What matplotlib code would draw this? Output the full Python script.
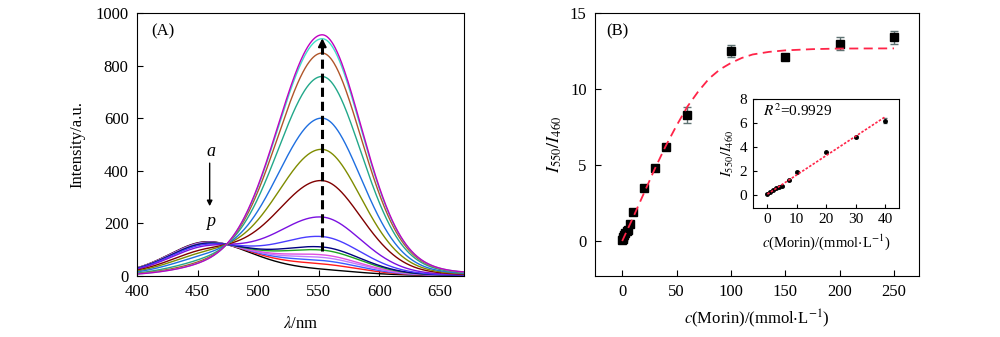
import numpy as np
import matplotlib
matplotlib.use("Agg")
import matplotlib.pyplot as plt

plt.rcParams['font.family'] = ['Liberation Serif', 'DejaVu Serif']
plt.rcParams['mathtext.fontset'] = 'stix'

# ---- panel A: band heights (curves a..p)
band460_height = [130, 128, 127, 125, 124, 122, 121, 116, 108, 92, 79, 65, 47, 37, 31, 30]
band553_height = [15, 35, 48, 60, 70, 88, 100, 140, 215, 355, 475, 595, 755, 845, 900, 915]
curve_colors = ['#000000', '#ff1a1a', '#3a5cff', '#c07cff', '#e050e0', '#1fa31f',
                '#000080', '#4a3cff', '#7a10e0', '#800000', '#7f8c00', '#1f6fe0',
                '#22a88a', '#b0562a', '#40e0c8', '#c000c0']

# ---- panel B: ratio vs concentration
conc = [0, 0.5, 1, 2, 3, 4, 5, 7.5, 10, 20, 30, 40, 60, 100, 150, 200, 250]
ratio = [0.1, 0.15, 0.25, 0.4, 0.55, 0.65, 0.7, 1.15, 1.9, 3.5, 4.8, 6.2, 8.3, 12.5, 12.1, 13.0, 13.4]
ratio_err = [0.05, 0.05, 0.05, 0.05, 0.05, 0.05, 0.05, 0.08, 0.1, 0.1, 0.12, 0.15, 0.5, 0.4, 0.2, 0.45, 0.4]
fit_x = [0, 10, 20, 30, 40, 50, 60, 70, 80, 90, 100, 110, 120, 135, 150, 175, 200, 250]
fit_y = [0, 1.55, 3.15, 4.75, 6.25, 7.6, 8.85, 9.85, 10.7, 11.3, 11.72, 12.05, 12.28,
         12.45, 12.55, 12.63, 12.67, 12.68]

# inset (linear range)
lin_conc = [0, 1, 2, 3, 4, 5, 7.5, 10, 20, 30, 40]
lin_ratio = [0.1, 0.25, 0.4, 0.55, 0.65, 0.7, 1.2, 1.9, 3.55, 4.8, 6.2]
lin_err = [0.03, 0.03, 0.03, 0.03, 0.03, 0.03, 0.05, 0.05, 0.06, 0.08, 0.2]
lin_fit_x = [0, 40]
lin_fit_y = [0.05, 6.5]


def band(lam, center, sl, sr, eta_l, eta_r):
    # asymmetric gaussian with a bit of lorentzian tail
    s = np.where(lam < center, sl, sr)
    eta = np.where(lam < center, eta_l, eta_r)
    g = np.exp(-(lam - center) ** 2 / (2 * s ** 2))
    l = 1 / (1 + ((lam - center) / (1.18 * s)) ** 2)
    return (1 - eta) * g + eta * l


lam = np.linspace(400, 670, 600)

fig = plt.figure(figsize=(10, 3.37), dpi=100)
axA = fig.add_axes([0.137, 0.181, 0.327, 0.780])
axB = fig.add_axes([0.595, 0.181, 0.324, 0.780])
axI = fig.add_axes([0.753, 0.383, 0.146, 0.323])

for a1, a2, c in zip(band460_height, band553_height, curve_colors):
    spec = a1 * band(lam, 458, 33, 39, 0.25, 0.25) + a2 * band(lam, 553, 37, 33, 0.0, 0.15)
    axA.plot(lam, spec, color=c, lw=1.0)

axA.plot([553, 553], [95, 880], ls=(0, (3, 1.6)), color='k', lw=2.2)
axA.annotate('', xy=(553, 915), xytext=(553, 860),
             arrowprops=dict(arrowstyle='-|>', color='k', lw=1.5, mutation_scale=12))
axA.annotate('', xy=(460, 255), xytext=(460, 440),
             arrowprops=dict(arrowstyle='-|>', color='k', lw=1.0, mutation_scale=8))
axA.text(461, 473, 'a', style='italic', fontsize=13, ha='center', va='center')
axA.text(461, 206, 'p', style='italic', fontsize=13, ha='center', va='center')
axA.text(421, 932, '(A)', fontsize=12, ha='center', va='center')

axA.set_xlim(400, 670)
axA.set_ylim(0, 1000)
axA.set_xticks([400, 450, 500, 550, 600, 650])
axA.set_yticks([0, 200, 400, 600, 800, 1000])
axA.set_xlabel(r'$\lambda$/nm', fontsize=12, labelpad=11)
axA.set_ylabel('Intensity/a.u.', fontsize=12, labelpad=7)

axB.errorbar(conc, ratio, yerr=ratio_err, fmt='s', color='k', ms=6,
             ecolor='#5f7373', elinewidth=1, capsize=3, zorder=3)
axB.plot(fit_x, fit_y, color='#ff2448', lw=1.3, ls=(0, (5, 3)), zorder=4)
axB.text(-4, 13.8, '(B)', fontsize=12, ha='center', va='center')
axB.set_xlim(-25, 273)
axB.set_ylim(-2.3, 15)
axB.set_xticks([0, 50, 100, 150, 200, 250])
axB.set_yticks([0, 5, 10, 15])
axB.set_xlabel(r'$c$(Morin)/(mmol$\cdot$L$^{-1}$)', fontsize=12, labelpad=5)
axB.set_ylabel(r'$I_{550}/I_{460}$', fontsize=13, labelpad=4)

axI.errorbar(lin_conc, lin_ratio, yerr=lin_err, fmt='o', color='k', ms=2.5,
             ecolor='#5f7373', elinewidth=0.8, capsize=1.5, zorder=3)
axI.plot(lin_fit_x, lin_fit_y, color='#ff2448', lw=1.2, ls=(0, (1.5, 1)), zorder=4)
axI.text(-1.5, 7.0, r'$R^2$=0.9929', fontsize=11, ha='left', va='center')
axI.set_xlim(-4.9, 44.8)
axI.set_ylim(-1.1, 8)
axI.set_xticks([0, 10, 20, 30, 40])
axI.set_yticks([0, 2, 4, 6, 8])
axI.set_xlabel(r'$c$(Morin)/(mmol$\cdot$L$^{-1}$)', fontsize=10.5, labelpad=4)
axI.set_ylabel(r'$I_{550}/I_{460}$', fontsize=10.5, labelpad=3)

for ax in (axA, axB):
    ax.tick_params(direction='in', length=4, labelsize=12, top=False, right=False, pad=6)
axI.tick_params(direction='in', length=3, labelsize=11, pad=4)

fig.savefig('out.png', dpi=100)
